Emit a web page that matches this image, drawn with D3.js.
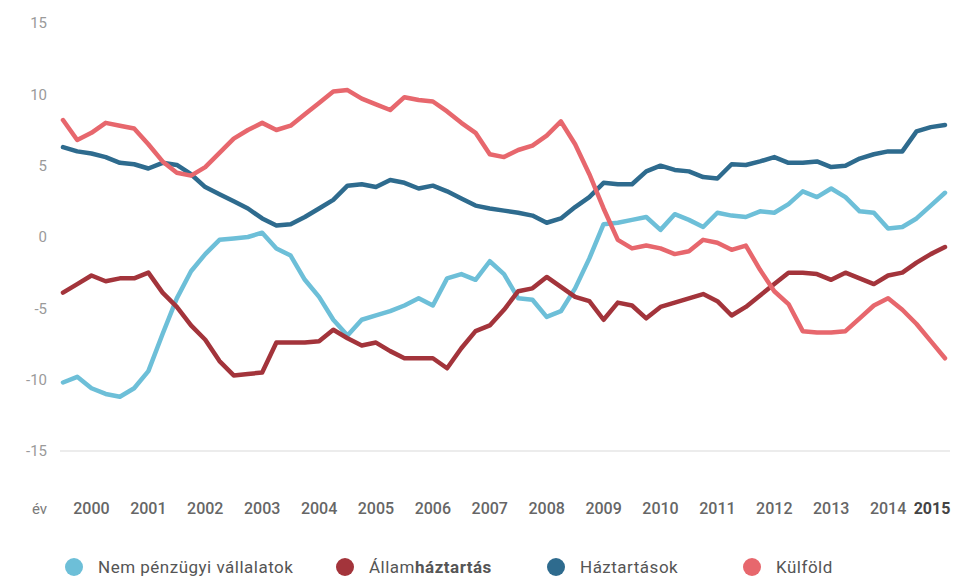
<!DOCTYPE html>
<html>
<head>
<meta charset="utf-8">
<script src="https://cdn.jsdelivr.net/npm/d3@7"></script>
<style>
  html, body { margin: 0; padding: 0; background: #fff; }
  svg { display: block; font-family: Roboto, "Liberation Sans", Arial, sans-serif; }
</style>
</head>
<body>
<svg id="chart" width="953" height="582"></svg>
<script>
// Quarterly data 2000Q1 – 2015Q3
const startYear = 2000;
const years = [2000,2001,2002,2003,2004,2005,2006,2007,2008,2009,2010,2011,2012,2013,2014,2015];
const yTicks = [15, 10, 5, 0, -5, -10, -15];

const nemPenzugyi = [
  -10.2,-9.8,-10.6,-11.0, -11.2,-10.6,-9.4,-6.8, -4.3,-2.4,-1.2,-0.2, -0.1,0.0,0.3,-0.8,
  -1.3,-3.0,-4.2,-5.8, -6.9,-5.8,-5.5,-5.2, -4.8,-4.3,-4.8,-2.9, -2.6,-3.0,-1.7,-2.6,
  -4.3,-4.4,-5.6,-5.2, -3.6,-1.5,0.9,1.0, 1.2,1.4,0.5,1.6, 1.2,0.7,1.7,1.5,
  1.4,1.8,1.7,2.3, 3.2,2.8,3.4,2.8, 1.8,1.7,0.6,0.7, 1.3,2.2,3.1
];
const allamhaztartas = [
  -3.9,-3.3,-2.7,-3.1, -2.9,-2.9,-2.5,-3.9, -4.9,-6.2,-7.2,-8.7, -9.7,-9.6,-9.5,-7.4,
  -7.4,-7.4,-7.3,-6.5, -7.1,-7.6,-7.4,-8.0, -8.5,-8.5,-8.5,-9.2, -7.8,-6.6,-6.2,-5.1,
  -3.8,-3.6,-2.8,-3.5, -4.2,-4.5,-5.8,-4.6, -4.8,-5.7,-4.9,-4.6, -4.3,-4.0,-4.5,-5.5,
  -4.9,-4.1,-3.3,-2.5, -2.5,-2.6,-3.0,-2.5, -2.9,-3.3,-2.7,-2.5, -1.8,-1.2,-0.7
];
const haztartasok = [
  6.3,6.0,5.85,5.6, 5.2,5.1,4.8,5.2, 5.05,4.4,3.5,3.0, 2.5,2.0,1.3,0.8,
  0.9,1.4,2.0,2.6, 3.6,3.7,3.5,4.0, 3.8,3.4,3.6,3.2, 2.7,2.2,2.0,1.85,
  1.7,1.5,1.0,1.3, 2.1,2.8,3.8,3.7, 3.7,4.6,5.0,4.7, 4.6,4.2,4.1,5.1,
  5.05,5.3,5.6,5.2, 5.2,5.3,4.9,5.0, 5.5,5.8,6.0,6.0, 7.4,7.7,7.85
];
const kulfold = [
  8.2,6.8,7.3,8.0, 7.8,7.6,6.5,5.3, 4.5,4.3,4.9,5.9, 6.9,7.5,8.0,7.5,
  7.8,8.6,9.4,10.2, 10.3,9.7,9.3,8.9, 9.8,9.6,9.5,8.8, 8.0,7.3,5.8,5.6,
  6.1,6.4,7.1,8.1, 6.5,4.4,2.0,-0.2, -0.8,-0.6,-0.8,-1.2, -1.0,-0.2,-0.4,-0.9,
  -0.6,-2.3,-3.8,-4.7, -6.6,-6.7,-6.7,-6.6, -5.7,-4.8,-4.3,-5.1, -6.1,-7.3,-8.5
];

const seriesNames = ["Nem pénzügyi vállalatok", "Államháztartás", "Háztartások", "Külföld"];
const seriesColors = ["#6dbfd8", "#a3343b", "#2e6b8e", "#e7676d"];
const seriesData = [nemPenzugyi, allamhaztartas, haztartasok, kulfold];

const svg = d3.select("#chart");
const x = d3.scaleLinear().domain([startYear, startYear + 62 / 4]).range([63, 945]);
const y = d3.scaleLinear().domain([-15, 15]).range([451, 23]);

// baseline gridline at -15
svg.append("line")
  .attr("x1", 60).attr("x2", 950)
  .attr("y1", y(-15)).attr("y2", y(-15))
  .attr("stroke", "#ececec").attr("stroke-width", 2);

// y labels
svg.append("g").selectAll("text").data(yTicks).join("text")
  .attr("x", 47).attr("y", d => y(d))
  .attr("dy", "0.36em")
  .attr("text-anchor", "end")
  .attr("font-size", 15)
  .attr("fill", "#9a9a9a")
  .text(d => d);

// x labels
svg.append("text").attr("x", 32).attr("y", 514)
  .attr("font-size", 15).attr("fill", "#7a7a7a").text("év");
svg.append("g").selectAll("text").data(years).join("text")
  .attr("x", d => Math.min(x(d + 0.5), 932))
  .attr("y", 514)
  .attr("text-anchor", "middle")
  .attr("font-size", 16)
  .attr("font-weight", d => d === 2015 ? 700 : 500)
  .attr("fill", d => d === 2015 ? "#444" : "#666")
  .text(d => d);

// lines
const line = d3.line()
  .x((d, i) => x(startYear + i / 4))
  .y(d => y(d));

svg.append("g").selectAll("path").data(seriesData).join("path")
  .attr("d", d => line(d))
  .attr("fill", "none")
  .attr("stroke", (d, i) => seriesColors[i])
  .attr("stroke-width", 4.5)
  .attr("stroke-linejoin", "round")
  .attr("stroke-linecap", "round");

// legend
const legendX = [74, 345, 556, 752];
const lg = svg.append("g").selectAll("g").data(seriesNames).join("g")
  .attr("transform", (d, i) => `translate(${legendX[i]},567)`);
lg.append("circle").attr("r", 9).attr("fill", (d, i) => seriesColors[i]);
const lt = lg.append("text").attr("x", 24).attr("dy", "0.36em")
  .attr("font-size", 17).attr("letter-spacing", 0.5).attr("fill", "#555");
lt.each(function(d) {
  const t = d3.select(this);
  if (d === "Államháztartás") {
    t.append("tspan").text("Állam");
    t.append("tspan").attr("font-weight", 700).text("háztartás");
  } else {
    t.text(d);
  }
});
</script>
</body>
</html>
